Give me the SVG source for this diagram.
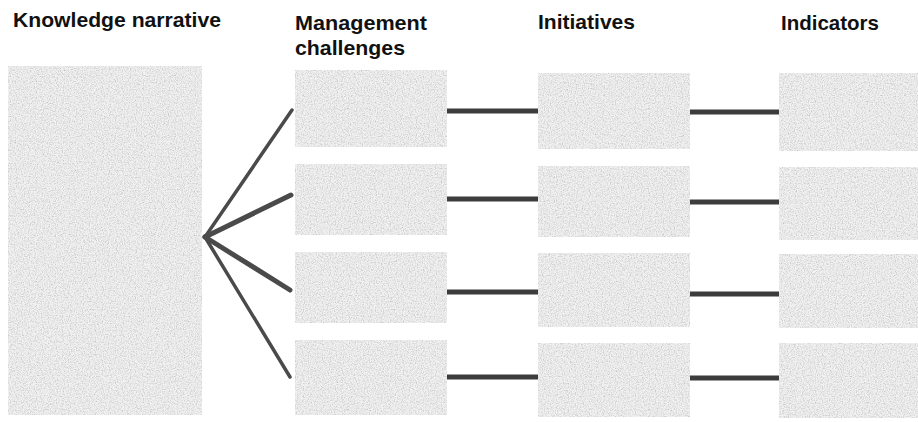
<svg xmlns="http://www.w3.org/2000/svg" width="918" height="422" viewBox="0 0 918 422">
<style>
.hd{font-family:"Liberation Sans",Arial,sans-serif;font-weight:bold;font-size:21px;fill:#111}
.box{fill:#f1f1f1;filter:url(#grain)}
.con{stroke:#3c3c3c;stroke-width:5;fill:none}
.fan{stroke:#4a4a4a;fill:none;stroke-linecap:round}
</style>
<defs>
<filter id="grain" x="0" y="0" width="100%" height="100%">
<feTurbulence type="fractalNoise" baseFrequency="0.85" numOctaves="2" seed="4" result="n"/>
<feColorMatrix in="n" type="matrix" values="0 0 0 0 0.45  0 0 0 0 0.45  0 0 0 0 0.45  1.7 0 0 0 -0.7" result="dots"/>
<feComposite in="dots" in2="SourceGraphic" operator="in" result="d2"/>
<feMerge><feMergeNode in="SourceGraphic"/><feMergeNode in="d2"/></feMerge>
</filter>
</defs>
<rect width="918" height="422" fill="#ffffff"/>
<g id="headers">
<text class="hd" x="13" y="27" textLength="208" lengthAdjust="spacingAndGlyphs">Knowledge narrative</text>
<text class="hd" x="295" y="30" textLength="132" lengthAdjust="spacingAndGlyphs">Management</text>
<text class="hd" x="295" y="55" textLength="110" lengthAdjust="spacingAndGlyphs">challenges</text>
<text class="hd" x="538" y="29" textLength="97" lengthAdjust="spacingAndGlyphs">Initiatives</text>
<text class="hd" x="781" y="30" textLength="98" lengthAdjust="spacingAndGlyphs">Indicators</text>
</g>
<g id="narrative"><rect class="box" x="8" y="66" width="194" height="349"/></g>
<g id="challenge1"><rect class="box" x="295" y="70" width="152" height="77"/></g>
<g id="challenge2"><rect class="box" x="295" y="164" width="152" height="71"/></g>
<g id="challenge3"><rect class="box" x="295" y="252" width="152" height="71"/></g>
<g id="challenge4"><rect class="box" x="295" y="340" width="152" height="75"/></g>
<g id="initiative1"><rect class="box" x="538" y="73" width="152" height="76"/></g>
<g id="initiative2"><rect class="box" x="538" y="166" width="152" height="71"/></g>
<g id="initiative3"><rect class="box" x="538" y="253" width="152" height="74"/></g>
<g id="initiative4"><rect class="box" x="538" y="343" width="152" height="74"/></g>
<g id="indicator1"><rect class="box" x="779" y="73" width="139" height="78"/></g>
<g id="indicator2"><rect class="box" x="779" y="167" width="139" height="73"/></g>
<g id="indicator3"><rect class="box" x="779" y="254" width="139" height="74"/></g>
<g id="indicator4"><rect class="box" x="779" y="343" width="139" height="75"/></g>
<g id="connectors">
<line class="fan" x1="205" y1="237" x2="292" y2="110" stroke-width="3.5"/>
<line class="fan" x1="205" y1="237" x2="291" y2="195" stroke-width="5" stroke="#5a5a5a"/>
<line class="fan" x1="205" y1="237" x2="290" y2="290" stroke-width="5" stroke="#5a5a5a"/>
<line class="fan" x1="205" y1="237" x2="290" y2="377" stroke-width="3.5"/>
<line class="con" x1="447" y1="111" x2="538" y2="111"/>
<line class="con" x1="447" y1="199" x2="538" y2="199"/>
<line class="con" x1="447" y1="292" x2="538" y2="292"/>
<line class="con" x1="447" y1="377" x2="538" y2="377"/>
<line class="con" x1="690" y1="112" x2="779" y2="112"/>
<line class="con" x1="690" y1="202" x2="779" y2="202"/>
<line class="con" x1="690" y1="294" x2="779" y2="294"/>
<line class="con" x1="690" y1="378" x2="779" y2="378"/>
</g>
</svg>
